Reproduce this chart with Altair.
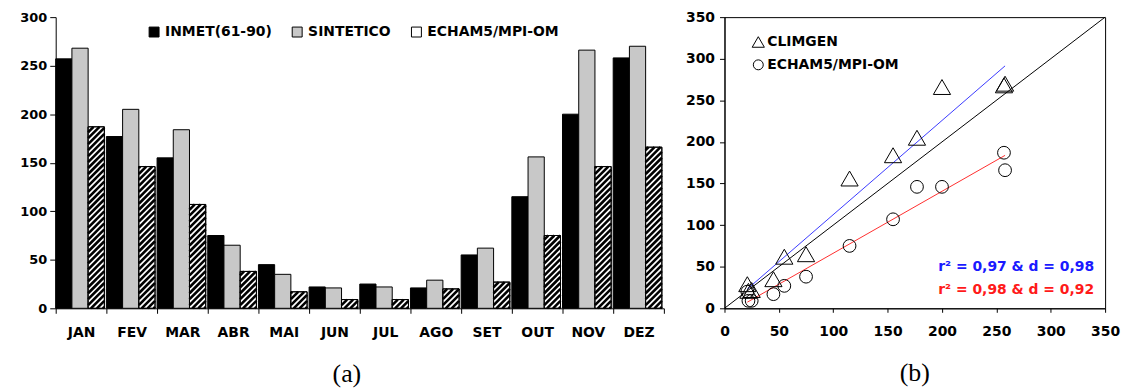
import altair as alt
import pandas as pd

# ---------------- data ----------------
months = ["JAN", "FEV", "MAR", "ABR", "MAI", "JUN", "JUL", "AGO", "SET", "OUT", "NOV", "DEZ"]
inmet = [257, 177, 155, 75, 45, 22, 25, 21, 55, 115, 200, 258]
sintetico = [268, 205, 184, 65, 35, 21, 22, 29, 62, 156, 266, 270]
echam = [187, 146, 107, 38, 17, 9, 9, 20, 27, 75, 146, 166]
series = ["INMET(61-90)", "SINTETICO", "ECHAM5/MPI-OM"]
bar_fills = ["#000000", "#c8c8c8", "#ffffff"]
y_ticks_a = [0, 50, 100, 150, 200, 250, 300]

scatter_models = ["CLIMGEN", "ECHAM5/MPI-OM"]
model_lines = ["#3a3aff", "#ff2e2e"]
model_shapes = ["triangle-up", "circle"]
ticks_b = [0, 50, 100, 150, 200, 250, 300, 350]
stats_text = ["r\u00b2 = 0,97 & d = 0,98", "r\u00b2 = 0,98 & d = 0,92"]
panel_labels = ["(a)", "(b)"]

# ---------------- layout constants ----------------
PW_A, PH = 612, 293
PW_B = 383
BAR_FRAC = 0.32
FONT = "DejaVu Sans"

# bar table
rows = []
for i, m in enumerate(months):
    for j, (s, vals) in enumerate(zip(series, [inmet, sintetico, echam])):
        rows.append(dict(month=m, series=s, x0=i + j * BAR_FRAC,
                         x1=i + (j + 1) * BAR_FRAC, value=vals[i]))
bars_df = pd.DataFrame(rows)

# hatch pattern for the ECHAM bars (derived from the bar values)
sx = PW_A / len(months)
sy = PH / y_ticks_a[-1]
period = 6.0
w = BAR_FRAC * sx
hatch = []
for i, v in enumerate(echam):
    H = v * sy
    x_base = i + 2 * BAR_FRAC
    c = -w + 1.5
    while c < H:
        xs = max(0.0, -c)
        xe = min(w, H - c)
        if xe > xs:
            hatch.append(dict(x=x_base + xs / sx, x2=x_base + xe / sx,
                              y=(xs + c) / sy, y2=(xe + c) / sy))
        c += period
hatch_df = pd.DataFrame(hatch)

label_js = "[" + ",".join("'%s'" % m for m in months) + ",'']"

x_a = alt.X("x0:Q",
            scale=alt.Scale(domain=[0, len(months)], nice=False, zero=False),
            axis=alt.Axis(values=list(range(len(months) + 1)), title=None, grid=False,
                          labelExpr=label_js + "[datum.value]", labelOffset=sx / 2,
                          tickSize=5, labelPadding=12, labelFontSize=14,
                          labelFlush=False, labelOverlap=False))
y_a = alt.Y("value:Q", scale=alt.Scale(domain=[0, y_ticks_a[-1]], nice=False),
            axis=alt.Axis(values=y_ticks_a, title=None, grid=False, tickSize=6,
                          labelPadding=3, labelFontSize=13, labelFlush=False))

bars = alt.Chart(bars_df).mark_bar(stroke="black", strokeWidth=1).encode(
    x=x_a, x2="x1", y=y_a, y2=alt.datum(0),
    fill=alt.Fill("series:N", sort=series,
                  scale=alt.Scale(domain=series, range=bar_fills),
                  legend=alt.Legend(orient="none", legendX=92, legendY=8,
                                    direction="horizontal", title=None,
                                    symbolType="square", symbolSize=100,
                                    symbolStrokeColor="black", symbolStrokeWidth=1,
                                    labelFont=FONT, labelFontWeight="bold",
                                    labelFontSize=14, columnPadding=18,
                                    labelOffset=4)))
hatch_layer = alt.Chart(hatch_df).mark_rule(color="black", strokeWidth=2.6).encode(
    x="x:Q", x2="x2", y="y:Q", y2="y2")
outline = alt.Chart(bars_df[bars_df.series == series[2]]).mark_bar(
    filled=False, color="black", strokeWidth=1).encode(
    x="x0:Q", x2="x1", y="value:Q", y2=alt.datum(0))

left = alt.layer(bars, hatch_layer, outline).properties(
    width=PW_A, height=PH,
    title=alt.TitleParams(panel_labels[0], orient="bottom", font="Liberation Serif",
                          fontSize=26, fontWeight="normal", offset=22, dx=-13,
                          anchor="middle", color="black"))

# ---------------- scatter panel ----------------
sc_df = pd.DataFrame({
    "obs": inmet + inmet,
    "sim": sintetico + echam,
    "model": [scatter_models[0]] * len(inmet) + [scatter_models[1]] * len(inmet),
})
diag_df = pd.DataFrame({"v": [ticks_b[0], ticks_b[-1]]})

sc_x = alt.Scale(domain=[ticks_b[0], ticks_b[-1]], nice=False)
sc_y = alt.Scale(domain=[ticks_b[0], ticks_b[-1]], nice=False)
ax_x = alt.Axis(values=ticks_b, title=None, grid=False, tickSize=4, labelPadding=12,
                labelFontSize=14, labelFlush=False)
ax_y = alt.Axis(values=ticks_b, title=None, grid=False, tickSize=5, labelPadding=5,
                labelFontSize=14, labelFlush=False)

diag = alt.Chart(diag_df).mark_line(color="black", strokeWidth=1).encode(
    x=alt.X("v:Q", scale=sc_x, axis=ax_x), y=alt.Y("v:Q", scale=sc_y, axis=ax_y))

reg = alt.Chart(sc_df).transform_regression("obs", "sim", groupby=["model"]).mark_line(
    strokeWidth=1).encode(
    x=alt.X("obs:Q", scale=sc_x, axis=ax_x),
    y=alt.Y("sim:Q", scale=sc_y, axis=ax_y),
    color=alt.Color("model:N", scale=alt.Scale(domain=scatter_models, range=model_lines),
                    legend=None))

pts = alt.Chart(sc_df).mark_point(filled=False, color="black", strokeWidth=1,
                                  opacity=1).encode(
    x=alt.X("obs:Q", scale=sc_x, axis=ax_x),
    y=alt.Y("sim:Q", scale=sc_y, axis=ax_y),
    shape=alt.Shape("model:N", scale=alt.Scale(domain=scatter_models, range=model_shapes),
                    legend=None),
    size=alt.Size("model:N", scale=alt.Scale(domain=scatter_models, range=[300, 165]),
                  legend=None))

# manual legend for the scatter panel
leg_layers = []
for k, (name, shp, sz) in enumerate(zip(scatter_models, model_shapes, [150, 100])):
    ypos = 25 + 23 * k
    leg_layers.append(
        alt.Chart(pd.DataFrame({"model": [name]})).mark_point(
            filled=False, color="black", strokeWidth=1, opacity=1, shape=shp, size=sz
        ).encode(x=alt.value(34), y=alt.value(ypos)))
    leg_layers.append(
        alt.Chart(pd.DataFrame({"model": [name]})).mark_text(
            align="left", baseline="middle", font=FONT, fontWeight="bold",
            fontSize=14, color="black"
        ).encode(text="model:N", x=alt.value(43), y=alt.value(ypos)))

txt1 = alt.Chart(pd.DataFrame({"t": [stats_text[0]]})).mark_text(
    align="right", baseline="middle", font=FONT, fontWeight="bold", fontSize=14,
    color="#1a1aff").encode(text="t:N", x=alt.value(372), y=alt.value(251))
txt2 = alt.Chart(pd.DataFrame({"t": [stats_text[1]]})).mark_text(
    align="right", baseline="middle", font=FONT, fontWeight="bold", fontSize=14,
    color="#ff1a1a").encode(text="t:N", x=alt.value(372), y=alt.value(275))

right = alt.layer(diag, reg, pts, *leg_layers, txt1, txt2).properties(
    width=PW_B, height=PH,
    view=alt.ViewBackground(stroke="black", strokeWidth=1),
    title=alt.TitleParams(panel_labels[1], orient="bottom", font="Liberation Serif",
                          fontSize=26, fontWeight="normal", offset=22,
                          anchor="middle", color="black"))

chart = alt.hconcat(left, right, spacing=61, bounds="flush").properties(
    padding={"left": 11, "top": 0, "right": 0, "bottom": 0}
).configure_view(stroke=None).configure_axis(
    labelFont=FONT, labelFontWeight="bold", labelColor="black",
    domainColor="black", tickColor="black", domainWidth=1, tickWidth=1
).configure_legend(labelColor="black")

chart.save("out.html", embed_options={"renderer": "svg", "actions": False})
